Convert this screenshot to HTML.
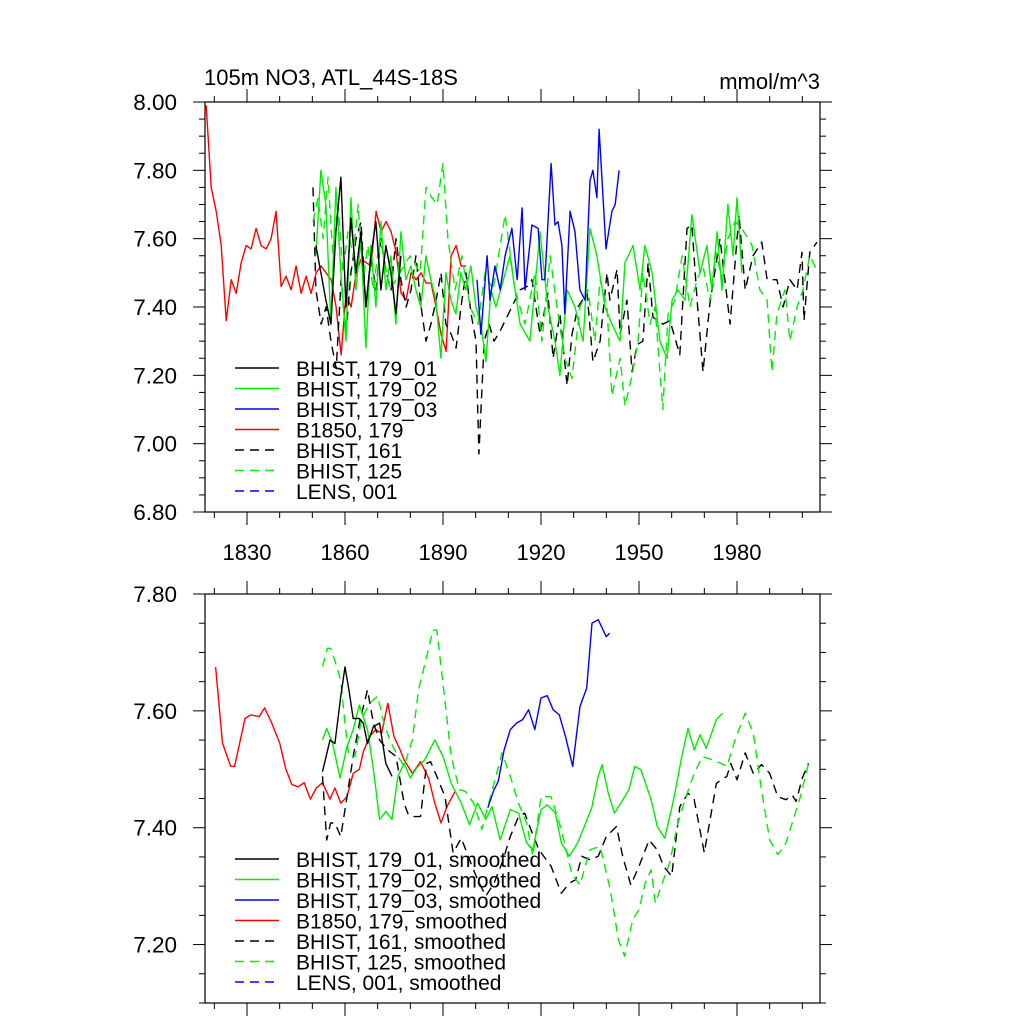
<!DOCTYPE html>
<html>
<head>
<meta charset="utf-8">
<style>
  html,body{margin:0;padding:0;background:#fff;}
  svg{display:block;}
  text{font-family:"Liberation Sans",Arial,sans-serif;fill:#000;}
</style>
</head>
<body>
<svg id="chart" width="1024" height="1024" viewBox="0 0 1024 1024" xmlns="http://www.w3.org/2000/svg">
  <rect x="0" y="0" width="1024" height="1024" fill="#fff"/>
  <text x="204" y="85" font-size="22">105m NO3, ATL_44S-18S</text>
  <text x="820" y="89" font-size="22" text-anchor="end">mmol/m^3</text>
  <g id="top"></g>
  <g id="bottom"></g>
</svg>
<script>
// ---------- DATA ----------
const xTickYears = [1830, 1860, 1890, 1920, 1950, 1980];
const topYTicks = [6.8, 7.0, 7.2, 7.4, 7.6, 7.8, 8.0];
const bottomYTicks = [7.2, 7.4, 7.6, 7.8];

// --- top panel (annual-ish) ---
const redTopStart = 1817.5, redTopStep = 1.53;
const redTopVals = [7.99,7.75,7.68,7.58,7.36,7.48,7.44,7.53,7.58,7.57,7.63,7.58,7.57,7.60,7.68,7.46,7.49,7.45,7.52,7.44,7.49,7.44,7.50,
  7.52,7.50,7.48,7.40,7.26,7.44,7.40,7.50,7.54,7.53,7.52,7.68,7.62,7.65,7.62,7.56,7.44,7.42,7.50,7.48,7.50,7.47,7.47,7.40,7.32,7.27,7.55,7.58,7.52,7.52];

const blackTopStart = 1851.1, blackTopStep = 1.53;
const blackTopVals = [7.58,7.50,7.42,7.35,7.62,7.78,7.40,7.66,7.50,7.62,7.40,7.55,7.65,7.45,7.58,7.50,7.38,7.55];

const blackDashTopYears = [1850.2,1851.1,1852.7,1854.2,1855.7,1857.3,1858.8,1860.3,1861.8,1863.4,1864.9,1866.4,1868.0,1869.5,1871.0,1872.6,1874.1,1875.6,1877.1,1878.7,1880.2,1881.7,1883.3,1884.8,1886.3,1887.9,1889.4,1890.9,1892.5,1894.0,1895.5,1897.0,1898.6,1900.1,1901.0,1902.6,1904.1,1905.6,1907.5,1913.6,1915.7,1917.2,1919.7,1922.1,1923.7,1925.8,1928.0,1929.5,1931.3,1934.1,1935.9,1938.1,1940.2,1941.1,1943.3,1944.2,1946.3,1947.9,1949.4,1951.2,1952.8,1954.3,1957.3,1959.5,1962.5,1964.7,1966.2,1967.8,1969.6,1971.7,1974.8,1977.9,1980.6,1982.5,1984.9,1987.6,1989.2,1992.2,1994.1,1996.2,1998.4,1999.9,2000.5,2002.3,2004.5];
const blackDashTopVals = [7.75,7.45,7.35,7.40,7.30,7.22,7.48,7.32,7.50,7.60,7.65,7.40,7.55,7.45,7.60,7.50,7.45,7.60,7.48,7.40,7.45,7.55,7.40,7.30,7.35,7.42,7.50,7.35,7.32,7.28,7.40,7.50,7.38,7.30,6.97,7.30,7.35,7.30,7.33,7.45,7.46,7.48,7.32,7.44,7.25,7.38,7.17,7.32,7.40,7.44,7.24,7.30,7.50,7.42,7.51,7.32,7.42,7.21,7.29,7.30,7.53,7.37,7.35,7.36,7.26,7.63,7.64,7.42,7.21,7.41,7.60,7.35,7.67,7.45,7.55,7.59,7.48,7.48,7.40,7.48,7.45,7.56,7.36,7.56,7.59];

const greenTopStart = 1851.1, greenTopStep = 1.53;
const greenTopVals = [7.55,7.80,7.70,7.35,7.75,7.50,7.30,7.72,7.45,7.60,7.28,7.58,7.40,7.65,7.45,7.55,7.35,7.62,7.48,7.52,7.45,7.40,7.55,7.48,7.42,7.25,7.50,7.42,7.38,7.50,7.45,7.52,7.40,7.35,7.24,7.45,7.40];
const greenTopYears2 = [1910.5,1913.6,1916.6,1919.7,1922.1,1924.3,1925.8,1928.0,1930.4,1932.9,1935.0,1937.1,1939.6,1941.7,1944.2,1945.7,1948.2,1950.3,1951.8,1954.0,1956.4,1958.6,1960.1,1961.9,1964.1,1966.2,1968.7,1970.8,1972.3,1973.9,1975.4,1977.2,1978.8,1980.0,1981.5];
const greenTopVals2 = [7.55,7.35,7.30,7.62,7.40,7.30,7.20,7.45,7.40,7.30,7.63,7.55,7.40,7.35,7.30,7.53,7.58,7.45,7.58,7.50,7.30,7.25,7.42,7.45,7.42,7.67,7.50,7.58,7.45,7.62,7.45,7.70,7.55,7.72,7.50];

const greenDashTopYears = [1850.2,1851.7,1853.3,1854.8,1856.3,1857.9,1859.4,1860.9,1862.5,1864.0,1865.5,1867.0,1868.6,1870.7,1873.8,1876.8,1879.9,1883.0,1884.8,1886.6,1888.2,1890.0,1891.5,1893.7,1895.8,1898.3,1900.7,1902.9,1905.3,1909.0,1912.0,1915.1,1918.2,1920.3,1922.8,1924.9,1927.3,1929.5,1931.9,1934.4,1936.5,1938.1,1940.2,1941.7,1944.2,1945.7,1947.9,1949.7,1951.2,1953.4,1954.9,1957.3,1958.9,1961.0,1963.2,1965.6,1967.8,1969.6,1971.7,1973.6,1975.4,1977.2,1979.4,1981.5,1984.6,1987.0,1989.2,1990.7,1992.2,1994.7,1996.2,1998.4,2000.2,2002.3,2004.8];
const greenDashTopVals = [7.65,7.72,7.60,7.78,7.55,7.70,7.50,7.62,7.55,7.70,7.48,7.58,7.45,7.60,7.45,7.50,7.55,7.50,7.75,7.72,7.70,7.82,7.60,7.45,7.55,7.40,7.35,7.50,7.45,7.67,7.45,7.35,7.50,7.30,7.55,7.40,7.25,7.19,7.40,7.45,7.30,7.48,7.40,7.14,7.25,7.11,7.20,7.30,7.50,7.35,7.40,7.10,7.38,7.42,7.55,7.40,7.48,7.52,7.42,7.56,7.48,7.60,7.65,7.63,7.58,7.45,7.42,7.21,7.38,7.45,7.30,7.40,7.45,7.55,7.50];

const blueTopYears = [1900.4,1901.6,1903.5,1904.4,1905.9,1907.5,1909.0,1911.1,1912.7,1914.2,1915.1,1917.2,1919.1,1920.3,1921.2,1923.1,1924.3,1925.2,1926.4,1927.3,1928.9,1930.4,1931.9,1933.5,1935.0,1935.9,1937.1,1937.8,1939.9,1941.7,1942.7,1943.9];
const blueTopVals = [7.48,7.32,7.55,7.42,7.52,7.45,7.55,7.63,7.48,7.69,7.45,7.64,7.63,7.48,7.48,7.82,7.64,7.65,7.58,7.38,7.68,7.62,7.45,7.42,7.77,7.80,7.72,7.92,7.57,7.68,7.70,7.80];

// --- bottom panel (smoothed) ---
const redSmYears = [1820.4,1822.5,1825.0,1826.2,1829.4,1831.2,1833.7,1835.4,1837.5,1840.0,1841.9,1843.7,1845.6,1847.5,1849.4,1851.2,1853.1,1855.4,1856.9,1858.7,1860.6,1862.5,1864.4,1865.6,1867.5,1869.4,1871.2,1873.1,1875.0,1876.9,1878.1,1880.6,1883.1,1885.6,1887.5,1889.4,1891.2,1893.7];
const redSmVals = [7.675,7.545,7.505,7.505,7.587,7.593,7.59,7.605,7.58,7.545,7.50,7.474,7.47,7.477,7.449,7.468,7.477,7.449,7.468,7.442,7.453,7.493,7.50,7.53,7.556,7.568,7.562,7.613,7.556,7.533,7.516,7.493,7.513,7.485,7.442,7.408,7.436,7.462];

const blackSmYears = [1853.1,1855.4,1856.9,1858.7,1860.0,1861.2,1862.5,1864.4,1865.6,1866.9,1868.7,1870.6,1872.5,1874.4];
const blackSmVals = [7.496,7.55,7.544,7.625,7.675,7.636,7.587,7.587,7.579,7.544,7.573,7.579,7.51,7.488];

const blackDashSmYears = [1853.1,1854.4,1855.6,1856.9,1858.7,1860.6,1862.5,1864.4,1866.9,1868.7,1870.6,1873.1,1875.6,1878.1,1879.4,1881.2,1883.1,1885.0,1886.2,1888.1,1890.6,1893.1,1895.6,1898.1,1900.6,1903.1,1905.6,1908.1,1910.6,1913.1,1915.0,1916.9,1919.4,1923.1,1926.2,1928.7,1930.6,1932.5,1935.0,1937.5,1940.0,1943.1,1945.0,1947.5,1950.0,1953.1,1955.6,1957.5,1960.0,1962.5,1965.0,1966.9,1970.0,1973.7,1976.9,1978.1,1980.0,1982.5,1985.0,1987.5,1990.0,1992.5,1995.0,1996.9,1998.1,2000.0,2001.9];
const blackDashSmVals = [7.488,7.379,7.408,7.408,7.385,7.453,7.522,7.579,7.636,7.579,7.55,7.533,7.522,7.442,7.422,7.419,7.419,7.51,7.513,7.488,7.453,7.357,7.382,7.345,7.311,7.283,7.305,7.34,7.385,7.419,7.425,7.397,7.362,7.334,7.288,7.305,7.311,7.351,7.345,7.351,7.385,7.402,7.351,7.302,7.334,7.379,7.362,7.334,7.317,7.436,7.459,7.448,7.357,7.476,7.488,7.51,7.482,7.528,7.493,7.508,7.493,7.453,7.448,7.456,7.445,7.485,7.51];

const greenSmYears = [1853.1,1854.4,1856.2,1858.5,1860.6,1862.5,1864.4,1866.9,1868.7,1870.6,1872.5,1874.4,1876.2,1878.1,1880.0,1881.9,1884.4,1887.5,1890.0,1892.5,1895.6,1898.1,1900.6,1903.1,1905.0,1907.5,1910.6,1913.1,1915.6,1917.5,1920.0,1921.9,1924.4,1926.2,1928.7,1931.2,1933.7,1935.6,1937.5,1938.7,1940.6,1942.5,1944.4,1946.9,1948.7,1950.6,1953.7,1955.6,1957.9,1960.6,1963.1,1965.0,1966.9,1968.7,1970.6,1973.7,1975.6];
const greenSmVals = [7.55,7.57,7.544,7.485,7.539,7.568,7.61,7.568,7.50,7.414,7.428,7.414,7.488,7.51,7.485,7.502,7.516,7.55,7.522,7.476,7.442,7.405,7.442,7.414,7.436,7.379,7.431,7.425,7.374,7.362,7.431,7.439,7.425,7.374,7.351,7.374,7.408,7.436,7.488,7.508,7.459,7.425,7.442,7.465,7.505,7.499,7.448,7.402,7.382,7.448,7.522,7.57,7.533,7.559,7.536,7.585,7.596];

const greenDashSmYears = [1853.1,1854.6,1855.6,1857.5,1858.7,1860.0,1861.2,1863.1,1865.0,1867.5,1870.0,1871.9,1873.7,1876.2,1878.1,1880.6,1882.5,1885.0,1886.9,1888.1,1890.0,1892.5,1895.0,1896.9,1899.4,1901.9,1903.7,1906.2,1908.1,1910.6,1913.1,1915.6,1917.5,1920.0,1923.1,1926.2,1929.4,1931.9,1935.0,1938.1,1941.2,1943.7,1945.6,1948.1,1950.0,1951.9,1953.7,1955.0,1957.5,1959.4,1961.9,1964.4,1966.9,1969.4,1972.5,1975.0,1976.9,1979.4,1982.5,1985.0,1987.5,1990.0,1992.5,1995.0,1997.5,1999.4,2001.9];
const greenDashSmVals = [7.676,7.707,7.707,7.676,7.65,7.579,7.522,7.522,7.585,7.613,7.625,7.579,7.55,7.522,7.505,7.55,7.636,7.693,7.738,7.738,7.647,7.522,7.465,7.462,7.442,7.397,7.436,7.488,7.528,7.488,7.442,7.408,7.351,7.453,7.453,7.397,7.322,7.302,7.362,7.368,7.294,7.208,7.18,7.243,7.26,7.305,7.328,7.271,7.311,7.34,7.408,7.453,7.493,7.522,7.516,7.51,7.505,7.55,7.596,7.562,7.465,7.379,7.354,7.374,7.419,7.453,7.51];

const blueSmYears = [1903.7,1905.6,1906.9,1908.7,1910.6,1912.5,1914.4,1916.2,1918.1,1920.0,1921.9,1923.7,1925.6,1927.5,1929.7,1931.9,1934.0,1935.6,1937.5,1940.0,1941.0];
const blueSmVals = [7.434,7.465,7.479,7.533,7.568,7.579,7.585,7.602,7.568,7.622,7.626,7.602,7.593,7.556,7.505,7.607,7.639,7.75,7.756,7.727,7.733];

const legendTop = ["BHIST, 179_01","BHIST, 179_02","BHIST, 179_03","B1850, 179","BHIST, 161","BHIST, 125","LENS, 001"];
const legendBottom = ["BHIST, 179_01, smoothed","BHIST, 179_02, smoothed","BHIST, 179_03, smoothed","B1850, 179, smoothed","BHIST, 161, smoothed","BHIST, 125, smoothed","LENS, 001, smoothed"];

// ---------- DRAWING ----------
const NS = "http://www.w3.org/2000/svg";
const GREEN = "#00ee00", BLUE = "#0000ff", RED = "#ff0000", BLACK = "#000";
const styles = [
  {c:BLACK, d:null},{c:GREEN, d:null},{c:BLUE, d:null},{c:RED, d:null},
  {c:BLACK, d:"9,6"},{c:GREEN, d:"9,6"},{c:BLUE, d:"9,6"}
];
const X0 = 205, X1 = 820;
function xScale(yr){ return 247 + (yr - 1830) * (98 / 30); }
function mk(tag, attrs){ const e = document.createElementNS(NS, tag); for (const k in attrs) e.setAttribute(k, attrs[k]); return e; }
function range(start, step, n){ const a=[]; for(let i=0;i<n;i++) a.push(start+i*step); return a; }

function drawPanel(g, yTop, yBot, vTop, vBot, ticks, showXLabels, series, legend, legY, fmtName){
  const yScale = v => yTop + (vTop - v) * (yBot - yTop) / (vTop - vBot);
  const clip = mk('clipPath', {id: 'clip'+fmtName});
  clip.appendChild(mk('rect', {x:X0, y:yTop, width:X1-X0, height:yBot-yTop}));
  g.appendChild(clip);
  const sg = mk('g', {'clip-path':'url(#clip'+fmtName+')'});
  
  
  series.forEach(s => {
    const n = Math.min(s.years.length, s.vals.length);
    let pts = [];
    for (let i=0;i<n;i++) pts.push(xScale(s.years[i]).toFixed(1)+','+yScale(s.vals[i]).toFixed(1));
    const pl = mk('polyline', {points: pts.join(' '), fill:'none', stroke: styles[s.style].c, 'stroke-width':1.4, 'stroke-linejoin':'round'});
    if (styles[s.style].d) pl.setAttribute('stroke-dasharray', styles[s.style].d);
    
    
    sg.appendChild(pl);
  });
  g.appendChild(sg);
  const fr = mk('rect', {x:X0, y:yTop, width:X1-X0, height:yBot-yTop, fill:'none', stroke:'#000', 'stroke-width':1.2});
  
  
  g.appendChild(fr);
  const minorStep = 0.05;
  for (let v = vBot; v <= vTop + 1e-6; v += minorStep) {
    const y = yScale(v);
    const isMajor = ticks.some(t => Math.abs(t - v) < 1e-6);
    const len = isMajor ? 12 : 6;
    const t1 = mk('line', {x1:X0-len, x2:X0, y1:y, y2:y, stroke:'#000', 'stroke-width':1});
    
    
    g.appendChild(t1);
    const t2 = mk('line', {x1:X1, x2:X1+len, y1:y, y2:y, stroke:'#000', 'stroke-width':1});
    
    
    g.appendChild(t2);
  }
  ticks.forEach(v => {
    const tx = mk('text', {x:177, y:yScale(v)+8, 'font-size':22.5, 'text-anchor':'end'});
    tx.textContent = v.toFixed(2);
    
    
    g.appendChild(tx);
  });
  for (let yr = 1820; yr <= 2000; yr += 10) {
    const x = xScale(yr);
    if (x < X0 || x > X1) continue;
    const isMajor = xTickYears.includes(yr) || yr === 2010;
    const len = isMajor ? 13 : 6;
    const a = mk('line', {x1:x, x2:x, y1:yTop-len, y2:yTop, stroke:'#000', 'stroke-width':1});
    
    
    g.appendChild(a);
    const b = mk('line', {x1:x, x2:x, y1:yBot, y2:yBot+len, stroke:'#000', 'stroke-width':1});
    
    
    g.appendChild(b);
  }
  if (showXLabels) {
    xTickYears.forEach(yr => {
      const tx = mk('text', {x:xScale(yr), y:yBot+48, 'font-size':22, 'text-anchor':'middle'});
      tx.textContent = yr;
      
      
      g.appendChild(tx);
    });
  }
  legend.forEach((lab, i) => {
    const y = legY + i * 20.5;
    const ln = mk('line', {x1:235, x2:279, y1:y, y2:y, stroke:styles[i].c, 'stroke-width':1.4});
    if (styles[i].d) ln.setAttribute('stroke-dasharray', styles[i].d);
    
    
    g.appendChild(ln);
    const tx = mk('text', {x:296, y:y+8, 'font-size':21});
    tx.textContent = lab;
    
    
    g.appendChild(tx);
  });
}

const topSeries = [
  {name:'b1850-179-line', style:3, years:range(redTopStart, redTopStep, redTopVals.length), vals:redTopVals},
  {name:'bhist-161-line', style:4, years:blackDashTopYears, vals:blackDashTopVals},
  {name:'bhist-125-line', style:5, years:greenDashTopYears, vals:greenDashTopVals},
  {name:'bhist-179-02-line', style:1, years:range(greenTopStart, greenTopStep, greenTopVals.length).concat(greenTopYears2), vals:greenTopVals.concat(greenTopVals2)},
  {name:'bhist-179-01-line', style:0, years:range(blackTopStart, blackTopStep, blackTopVals.length), vals:blackTopVals},
  {name:'bhist-179-03-line', style:2, years:blueTopYears, vals:blueTopVals}
];
const bottomSeries = [
  {name:'b1850-179-smoothed', style:3, years:redSmYears, vals:redSmVals},
  {name:'bhist-161-smoothed', style:4, years:blackDashSmYears, vals:blackDashSmVals},
  {name:'bhist-125-smoothed', style:5, years:greenDashSmYears, vals:greenDashSmVals},
  {name:'bhist-179-02-smoothed', style:1, years:greenSmYears, vals:greenSmVals},
  {name:'bhist-179-01-smoothed', style:0, years:blackSmYears, vals:blackSmVals},
  {name:'bhist-179-03-smoothed', style:2, years:blueSmYears, vals:blueSmVals}
];

drawPanel(document.getElementById('top'), 102, 512, 8.0, 6.8, topYTicks, true, topSeries, legendTop, 368, 'top');
drawPanel(document.getElementById('bottom'), 594, 1003, 7.8, 7.1, bottomYTicks, false, bottomSeries, legendBottom, 859, 'bottom');
</script>
</body>
</html>
